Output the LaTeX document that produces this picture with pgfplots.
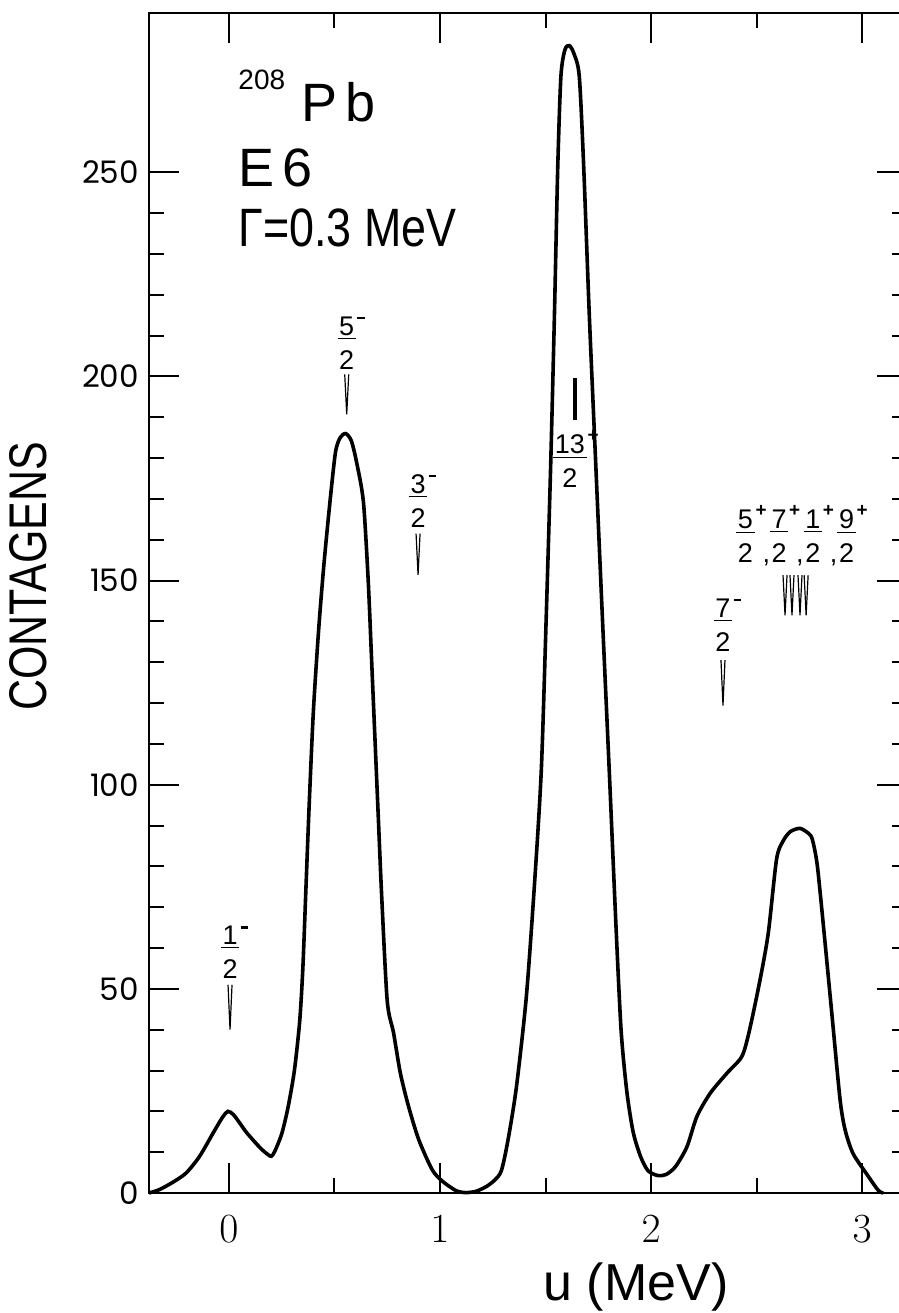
\documentclass[border=0pt]{standalone}
\usepackage{pgfplots}
\pgfplotsset{compat=1.18}
\usepackage{fontspec}
\setmainfont{Liberation Sans}
\newfontfamily\pop{Poppins}
\usepackage{graphicx}
\newcommand{\mns}{\rlap{\hspace{0.8pt}\raisebox{8pt}{\rule{3.6pt}{1.3pt}}}}
\newcommand{\pls}{\rlap{\hspace{0.5pt}\raisebox{1pt}{\textsuperscript{\textbf{+}}}}}
\newcommand{\jf}[3]{\begin{tabular}[b]{@{}c@{}}\underline{\kern0.8pt#1\kern0.8pt}#3\\[3.5pt]#2\end{tabular}}
\newcommand{\wedgeat}[3]{\draw[line width=0.6pt] ([xshift=-1.0pt]axis cs:#1,#2) -- (axis cs:#1,#3) -- ([xshift=1.0pt]axis cs:#1,#2);}
\newcommand{\gap}{\hspace{4pt}\phantom{,}\hspace{3pt}}
\newcommand{\cma}{\hspace{4pt},\hspace{3pt}}
\begin{document}
\begin{tikzpicture}
\begin{axis}[
  at={(0,0)}, anchor=south west,
  scale only axis, width=379pt, height=590pt,
  xmin=-0.379, xmax=3.213, ymin=0, ymax=289,
  axis line style={line width=1.3pt},
  xtick={0,1,2,3}, minor x tick num=1,
  ytick={0,50,100,150,200,250}, yticklabels={0,50,100,150,200,250}, minor y tick num=4,
  tick align=inside,
  major tick length=15pt, minor tick length=7.5pt,
  every tick/.append style={black, line width=1pt},
  xticklabel style={font=\fontsize{22}{22}\selectfont, yshift=-8pt},
  yticklabel style={font=\pop\fontsize{15.5}{15.5}\selectfont, xshift=-1.5pt},
  clip=false,
]
\addplot[line width=1.8pt, smooth, tension=0.45] table {
-0.379 0
-0.331 0.8
-0.267 2.6
-0.203 4.9
-0.139 9.0
-0.075 14.7
-0.03 18.6
-0.005 20.0
0.021 19.2
0.05 17.2
0.085 14.7
0.149 11.0
0.185 9.4
0.201 9.0
0.217 10.2
0.25 14.5
0.28 21
0.31 30
0.335 42
0.35 55
0.365 75
0.38 95
0.40 118
0.425 138
0.45 154
0.48 170
0.505 181.5
0.527 185
0.553 186
0.58 184.2
0.605 178.9
0.637 169.3
0.660 149.8
0.676 130.4
0.692 111
0.708 91.6
0.724 72.3
0.750 47
0.780 39.2
0.812 29.4
0.851 21.2
0.899 13.1
0.963 5.7
1.011 2.9
1.075 0.6
1.12 0.1
1.17 0.4
1.22 1.6
1.26 3.2
1.291 5.5
1.322 12.9
1.362 25.9
1.409 48
1.448 75.8
1.480 103.5
1.503 140.4
1.524 177.4
1.542 214.4
1.558 251.3
1.573 273.5
1.592 280
1.613 281
1.635 279
1.660 273.5
1.681 251.3
1.708 214.4
1.739 177.4
1.770 140.4
1.802 103.5
1.833 66.5
1.858 40
1.885 25
1.915 15
1.95 9
1.985 5.5
2.03 4.3
2.07 4.5
2.115 6.4
2.17 11.3
2.217 18.7
2.28 24.4
2.359 29.3
2.43 33.4
2.465 39.5
2.517 52.3
2.556 63.8
2.595 81.8
2.627 86.3
2.66 88.5
2.706 89.3
2.748 88
2.765 86.5
2.788 80.2
2.82 63.8
2.858 43.3
2.896 22.8
2.92 15.4
2.957 9.7
3.02 4.8
3.076 0.7
3.1 0
};
% text block
\node[anchor=base west, inner sep=0, font=\fontsize{27}{27}\selectfont] at (axis cs:0.043,262.4) {\raisebox{16pt}{\fontsize{14}{14}\selectfont 208}\hspace{8pt}P\hspace{4pt}b};
\node[anchor=base west, inner sep=0, font=\fontsize{27}{27}\selectfont] at (axis cs:0.043,246.4) {E\hspace{4pt}6};
\node[anchor=base west, inner sep=0] at (axis cs:0.043,231.7) {\scalebox{0.83}[1]{\fontsize{27}{27}\selectfont Γ=0.3 MeV}};
% axis labels
\node[anchor=base, inner sep=0, font=\fontsize{26}{26}\selectfont] at (axis cs:1.929,-26.3) {u (MeV)};
\node[rotate=90, anchor=center, inner sep=0] at (axis cs:-0.95,151) {\scalebox{0.81}[1]{\fontsize{26.5}{26.5}\selectfont CONTAGENS}};
% level labels
\begin{scope}[every node/.style={anchor=base, inner sep=0, font=\fontsize{13.5}{13.5}\selectfont}]
\node at (axis cs:0.005,52.5) {\jf{1}{2}{\mns}};
\node at (axis cs:0.558,201.7) {\jf{5}{2}{\mns}};
\node at (axis cs:0.896,163) {\jf{3}{2}{\mns}};
\node at (axis cs:1.616,172.7) {\jf{13}{2}{\pls}};
\node at (axis cs:2.341,132.7) {\jf{7}{2}{\mns}};
\node at (axis cs:2.687,154.3) {\begin{tabular}[b]{@{}c@{}c@{}c@{}c@{}c@{}c@{}c@{}}\underline{\kern0.8pt 5\kern0.8pt}\pls & \gap & \underline{\kern0.8pt 7\kern0.8pt}\pls & \gap & \underline{\kern0.8pt 1\kern0.8pt}\pls & \gap & \underline{\kern0.8pt 9\kern0.8pt}\pls\\[3.5pt] 2 & \cma & 2 & \cma & 2 & \cma & 2\end{tabular}};
\end{scope}
\wedgeat{0.005}{51}{40}
\wedgeat{0.558}{200.5}{190.7}
\wedgeat{0.896}{161.5}{151.4}
\draw[line width=2pt] (axis cs:1.64,189.3) -- (axis cs:1.64,199.5);
\wedgeat{2.341}{130.5}{119.4}
\wedgeat{2.635}{151.3}{141.5}
\wedgeat{2.668}{151.3}{141.5}
\wedgeat{2.706}{151.3}{141.5}
\wedgeat{2.735}{151.3}{141.5}
\end{axis}
\pgfresetboundingbox
\useasboundingbox (-74.5pt,-60pt) rectangle (375pt,596.5pt);
\end{tikzpicture}
\end{document}
